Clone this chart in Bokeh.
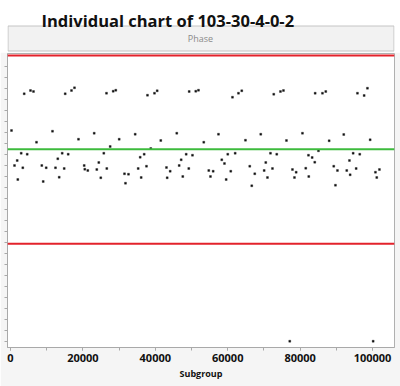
from bokeh.plotting import figure
from bokeh.models import (Range1d, Span, SingleIntervalTicker, FixedTicker,
                          CustomJSTickFormatter, BasicTickFormatter)
from bokeh.layouts import column
from bokeh.core.properties import value
from bokeh.embed import file_html
from bokeh.resources import INLINE

title_text = "Individual chart of 103-30-4-0-2"
header_text = "Phase"
x_label = "Subgroup"

subgroup = [276, 1105, 1851, 2016, 2955, 3397, 3784, 4613, 5524, 6353,
            7181, 8645, 9032, 9860, 11600, 12429, 13064, 13451, 14280, 14832,
            15108, 15937, 16848, 17677, 18782, 20356, 20522, 21350, 23118, 23836,
            24389, 24941, 25775, 26515, 26600, 27537, 28366, 29084, 30023, 31487,
            31763, 32592, 34442, 35271, 35823, 36099, 36928, 37563, 37839, 38751,
            39773, 40518, 41513, 43087, 43280, 44109, 45932, 46595, 47147, 47589,
            48528, 49247, 49357, 50268, 51180, 51926, 53389, 54770, 55240, 55986,
            57450, 58361, 59107, 59576, 60018, 60847, 61316, 62062, 62974, 63885,
            64907, 66095, 66647, 67476, 69133, 70072, 70514, 70983, 71812, 72365,
            72723, 73552, 74574, 75403, 76231, 77143, 77888, 78441, 78910, 80650,
            81562, 82310, 82393, 83330, 84048, 84158, 85070, 86174, 87086, 88025,
            89295, 89765, 90317, 92057, 92886, 93632, 93825, 94654, 95482, 95841,
            96477, 97692, 98603, 99349, 100178, 100813, 101174, 101918]

phase = [120, 85, 90, 71, 97.3, 82.7, 156.7, 96.3, 160, 159,
         108.3, 85, 69, 82.7, 119.3, 82.7, 91.7, 73.3, 97.3, 82,
         156.7, 96.3, 160, 162.7, 111.3, 85, 81.3, 80, 117.3, 81,
         88, 72.7, 97.3, 157.3, 82, 104, 159.3, 160.3, 111.3, 76.7,
         67.3, 76.3, 116.3, 82, 93.3, 73, 96.3, 84.3, 155.3, 102,
         157.3, 159.7, 110, 83, 72.7, 79.3, 117.3, 85, 90.7, 74,
         96.3, 82, 159, 95.3, 159.3, 160.3, 108.3, 80, 74, 79.3,
         116.3, 90.7, 87, 71, 96.3, 79.3, 153.3, 97.3, 157.3, 159.7,
         110.3, 84.3, 64.7, 76.7, 116.3, 80, 88, 73, 97.3, 82,
         156.3, 96.3, 159, 160, 110, -90.7, 81, 73, 78.3, 117.3,
         82.3, 95.3, 74, 93, 88.3, 157.3, 99.7, 157.3, 159, 109.7,
         84.3, 65.3, 80, 116, 80, 90, 75.7, 97.3, 82, 157.3,
         96.3, 155, 162.3, 110.7, -90.7, 78.3, 73, 81]

ucl = 195.0
center = 101.3
lcl = 6.7

# ---------- header (title + "Phase" strip) ----------
h = figure(width=400, height=52, x_range=Range1d(7, 394), y_range=Range1d(52, 0),
           toolbar_location=None, output_backend="svg", min_border=0,
           x_axis_location=None, y_axis_location=None)
h.grid.visible = False
h.outline_line_color = None
h.background_fill_color = "white"
h.border_fill_color = "white"
h.quad(left=[7.5], right=[393.5], top=[25.5], bottom=[50.5],
       fill_color="#f2f2f2", line_color="#c4c4c4", line_width=1)
h.text(x=[41], y=[20], text=[title_text], text_font=value("Open Sans"),
       text_font_style="bold", text_font_size="16.5px", text_color="#111111",
       text_baseline="alphabetic", text_align="left")
h.text(x=[200], y=[38], text=[header_text], text_font=value("Open Sans"),
       text_font_size="9px", text_color="#8a8a8a",
       text_baseline="middle", text_align="center")

# ---------- main chart ----------
p = figure(width=400, height=334, x_range=Range1d(-829, 106077), y_range=Range1d(-97, 197),
           toolbar_location=None, output_backend="svg",
           min_border_left=7, min_border_right=6, min_border_top=1, min_border_bottom=39)
p.grid.visible = False
p.background_fill_color = "white"
p.border_fill_color = "#f5f5f5"
p.outline_line_color = "#b0b0b0"

for loc, col in ((ucl, "#e3222b"), (center, "#3dbb3d"), (lcl, "#e3222b")):
    p.add_layout(Span(location=loc, dimension="width", line_color=col, line_width=2))

p.scatter(subgroup, phase, marker="square", size=2, fill_color="#111111",
          line_color="#111111", line_width=0.3)

xa = p.xaxis[0]
xa.ticker = SingleIntervalTicker(interval=20000, num_minor_ticks=2)
xa.formatter = BasicTickFormatter(use_scientific=False)
xa.axis_line_color = "#a9a9a9"
xa.major_tick_line_color = "#a9a9a9"
xa.minor_tick_line_color = "#a9a9a9"
xa.major_tick_out = 3
xa.major_tick_in = 0
xa.minor_tick_out = 3
xa.minor_tick_in = 0
xa.major_label_text_font = "Open Sans"
xa.major_label_text_font_style = "bold"
xa.major_label_text_font_size = "11px"
xa.major_label_text_color = "#111111"
xa.major_label_standoff = 3
xa.axis_label = x_label
xa.axis_label_text_font = "Open Sans"
xa.axis_label_text_font_style = "bold"
xa.axis_label_text_font_size = "9px"
xa.axis_label_text_color = "#111111"
xa.axis_label_standoff = 2

ya = p.yaxis[0]
ya.ticker = FixedTicker(ticks=[184 - 11 * k for k in range(26)], minor_ticks=[])
ya.formatter = CustomJSTickFormatter(code="return ''")
ya.axis_line_color = "#a9a9a9"
ya.major_tick_line_color = "#a9a9a9"
ya.major_tick_out = 3
ya.major_tick_in = 0
ya.minor_tick_out = 0
ya.minor_tick_in = 0
ya.major_label_standoff = 0

layout = column(h, p)
open("out.html", "w").write(file_html(layout, INLINE))
